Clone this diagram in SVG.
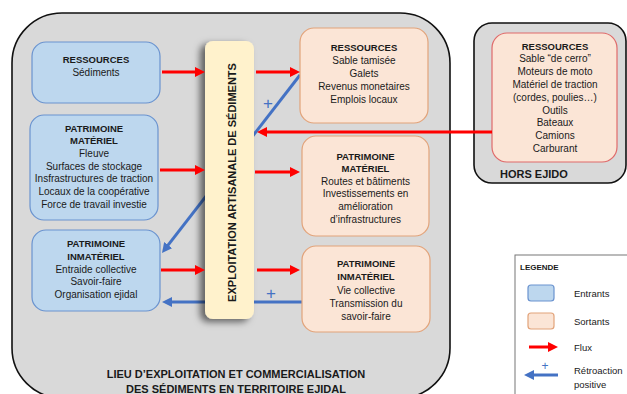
<svg xmlns="http://www.w3.org/2000/svg" width="627" height="394" viewBox="0 0 627 394">
<style>
text{font-family:"Liberation Sans",Arial,sans-serif;fill:#1a1a1a;text-anchor:middle;font-size:10px}
.b{font-weight:bold;font-size:9.5px}
.in{fill:#bdd7ee;stroke:#6a93cf;stroke-width:1.2}
.out{fill:#fbe5d6;stroke:#e2a37a;stroke-width:1.2}
.cont{fill:#d9d9d9;stroke:#111;stroke-width:1.6}
.red{stroke:#ff0000;stroke-width:3;fill:none;marker-end:url(#ar)}
.blue{stroke:#4472c4;stroke-width:3;fill:none;marker-end:url(#ab)}
.plus{fill:#4472c4;font-size:17px}
.lg{text-anchor:start;font-size:9.5px}
</style>
<defs>
<marker id="ar" markerUnits="userSpaceOnUse" markerWidth="10" markerHeight="10" refX="2" refY="5" orient="auto"><path d="M0,0 L10,5 L0,10 z" fill="#ff0000"/></marker>
<marker id="ab" markerUnits="userSpaceOnUse" markerWidth="10" markerHeight="10" refX="2" refY="5" orient="auto"><path d="M0,0 L10,5 L0,10 z" fill="#4472c4"/></marker>
<filter id="sh" x="-50%" y="-10%" width="200%" height="120%"><feDropShadow dx="-5" dy="3" stdDeviation="3.5" flood-color="#000" flood-opacity="0.55"/></filter>
</defs>
<rect width="627" height="394" fill="#fff"/>
<g id="lieu">
<rect class="cont" x="12" y="13" width="438" height="385" rx="50"/>
<text class="b" style="font-size:11px" x="236" y="378">LIEU D’EXPLOITATION ET COMMERCIALISATION</text>
<text class="b" style="font-size:11px" x="236" y="393">DES SÉDIMENTS EN TERRITOIRE EJIDAL</text>
</g>
<g id="hors-ejido">
<rect class="cont" x="474" y="23" width="152" height="160" rx="18"/>
<text class="b" style="font-size:11px;text-anchor:start" x="500" y="178">HORS EJIDO</text>
</g>
<g id="connectors-back">
<path class="blue" d="M300,75 L166.9,246.7"/>
<path class="blue" d="M302,302 L170,302"/>
</g>
<g id="exploitation">
<rect x="205" y="41" width="49" height="278" rx="8" fill="#fff2cc" filter="url(#sh)"/>
<text class="b" style="font-size:11px" transform="translate(236,182.5) rotate(-90)">EXPLOITATION  ARTISANALE DE SÉDIMENTS</text>
</g>
<g id="in-ressources">
<rect class="in" x="32" y="42" width="128" height="61" rx="14"/>
<text class="b" x="96" y="62.5">RESSOURCES</text>
<text x="96" y="75.5">Sédiments</text>
</g>
<g id="in-materiel">
<rect class="in" x="30" y="115" width="128" height="105" rx="14"/>
<text class="b" x="94" y="131.5">PATRIMOINE</text>
<text class="b" x="94" y="144.2">MATÉRIEL</text>
<text x="94" y="156.9">Fleuve</text>
<text x="94" y="169.6">Surfaces de stockage</text>
<text x="94" y="182.3">Insfrastructures de traction</text>
<text x="94" y="195">Locaux de la coopérative</text>
<text x="94" y="207.7">Force de travail investie</text>
</g>
<g id="in-immateriel">
<rect class="in" x="32" y="230" width="128" height="81" rx="14"/>
<text class="b" x="96" y="246.5">PATRIMOINE</text>
<text class="b" x="96" y="259.5">INMATÉRIEL</text>
<text x="96" y="272.5">Entraide collective</text>
<text x="96" y="285">Savoir-faire</text>
<text x="96" y="297.5">Organisation ejidal</text>
</g>
<g id="out-ressources">
<rect class="out" x="300" y="28" width="128" height="95" rx="14"/>
<text class="b" x="364" y="50.5">RESSOURCES</text>
<text x="364" y="63.5">Sable tamisée</text>
<text x="364" y="76.5">Galets</text>
<text x="364" y="89.5">Revenus monetaires</text>
<text x="364" y="102.5">Emplois locaux</text>
</g>
<g id="out-materiel">
<rect class="out" x="302" y="136" width="127" height="100" rx="14"/>
<text class="b" x="365.5" y="159.5">PATRIMOINE</text>
<text class="b" x="365.5" y="171.8">MATÉRIEL</text>
<text x="365.5" y="184.5">Routes et bâtiments</text>
<text x="365.5" y="197.2">Investissements en</text>
<text x="365.5" y="209.9">amélioration</text>
<text x="365.5" y="222.6">d’infrastructures</text>
</g>
<g id="out-immateriel">
<rect class="out" x="302" y="246" width="128" height="86" rx="14"/>
<text class="b" x="366" y="266.5">PATRIMOINE</text>
<text class="b" x="366" y="280">INMATÉRIEL</text>
<text x="366" y="293.5">Vie collective</text>
<text x="366" y="306.5">Transmission du</text>
<text x="366" y="319.5">savoir-faire</text>
</g>
<g id="hors-ressources">
<rect x="492" y="33" width="125" height="129" rx="15" fill="#fbe5d6" stroke="#e06a6a" stroke-width="1.2"/>
<text class="b" x="555" y="49.5">RESSOURCES</text>
<text x="555" y="62.3">Sable “de cerro”</text>
<text x="555" y="75.1">Moteurs de moto</text>
<text x="555" y="87.9">Matériel de traction</text>
<text x="555" y="100.7">(cordes, poulies…)</text>
<text x="555" y="113.5">Outils</text>
<text x="555" y="126.3">Bateaux</text>
<text x="555" y="139.1">Camions</text>
<text x="555" y="151.9">Carburant</text>
</g>
<g id="connectors">
<path class="red" d="M162,72 H197"/>
<path class="red" d="M160,170 H197"/>
<path class="red" d="M161,270 H197"/>
<path class="red" d="M256,72 H292"/>
<path class="red" d="M255,172 H292"/>
<path class="red" d="M257,270 H292"/>
<path class="red" d="M492,132 H265"/>
<text class="plus" x="268" y="109">+</text>
<text class="plus" x="271" y="299">+</text>
</g>
<g id="legende">
<rect x="515" y="255" width="120" height="150" fill="#fff" stroke="#777" stroke-width="1"/>
<text class="b lg" style="font-size:8px" x="520" y="270">LEGENDE</text>
<rect class="in" x="528" y="285" width="26" height="16" rx="3"/>
<text class="lg" x="574" y="297">Entrants</text>
<rect class="out" x="528" y="313" width="26" height="16" rx="3"/>
<text class="lg" x="574" y="325">Sortants</text>
<path class="red" d="M529,347 H550"/>
<text class="lg" x="574" y="351">Flux</text>
<path class="blue" d="M558,375 H532"/>
<text class="plus" style="font-size:12px" x="545" y="370">+</text>
<text class="lg" x="574" y="374">Rétroaction</text>
<text class="lg" x="574" y="388">positive</text>
</g>
</svg>
